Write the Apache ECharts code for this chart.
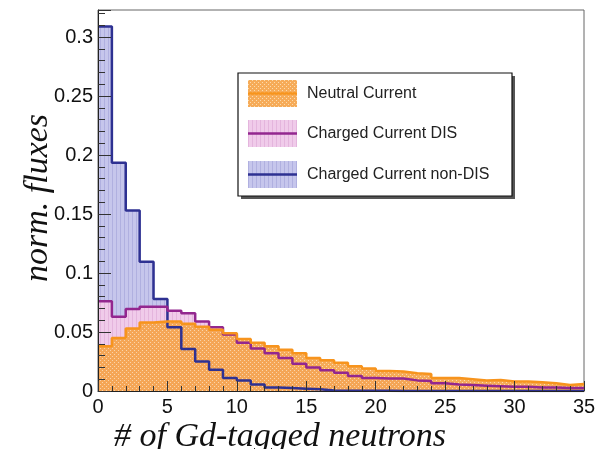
<!DOCTYPE html>
<html>
<head>
<meta charset="utf-8">
<script src="https://cdn.jsdelivr.net/npm/echarts@6/dist/echarts.min.js"></script>
<style>
html,body{margin:0;padding:0;background:#fff;}
#chart{width:610px;height:449px;}
</style>
</head>
<body>
<div id="chart"></div>
<script>
// bin edges 0..35 (unit-width bins)
const binEdges = Array.from({length: 36}, (_, i) => i);
const xTicks = [0, 5, 10, 15, 20, 25, 30, 35];
const yTicks = [0, 0.05, 0.1, 0.15, 0.2, 0.25, 0.3];

const seriesNames = ['Neutral Current', 'Charged Current DIS', 'Charged Current non-DIS'];

const ncValues = [0.038, 0.045, 0.053, 0.058, 0.059, 0.059, 0.057, 0.0545, 0.052, 0.049,
  0.044, 0.041, 0.038, 0.035, 0.032, 0.028, 0.026, 0.024, 0.021, 0.019,
  0.017, 0.0165, 0.015, 0.0145, 0.011, 0.011, 0.010, 0.009, 0.0093, 0.008,
  0.008, 0.0075, 0.0065, 0.005, 0.006];

const ccDisValues = [0.076, 0.063, 0.0695, 0.0715, 0.0715, 0.068, 0.066, 0.059, 0.054, 0.048,
  0.041, 0.036, 0.032, 0.028, 0.023, 0.020, 0.0175, 0.0155, 0.0127, 0.011,
  0.0105, 0.0105, 0.009, 0.0085, 0.0065, 0.0055, 0.005, 0.0045, 0.004, 0.0035,
  0.0035, 0.003, 0.003, 0.0025, 0.0025];

const ccNonDisValues = [0.309, 0.1935, 0.153, 0.1096, 0.078, 0.054, 0.0356, 0.025, 0.018, 0.011,
  0.009, 0.0055, 0.003, 0.0025, 0.002, 0.0015, 0.0005, 0.0003, 0.0002, 0.0002,
  0.0002, 0.0001, 0.0001, 0.0001, 0.0001, 0.0001, 0.0001, 0.0001, 0.0001, 0.0001,
  0.0001, 0.0001, 0.0001, 0.0001, 0.0001];

function stepData(vals) {
  const d = binEdges.slice(0, vals.length).map((e, i) => [e, vals[i]]);
  d.push([binEdges[vals.length], vals[vals.length - 1]]);
  return d;
}

function makePattern(kind, base, accent) {
  const c = document.createElement('canvas');
  c.width = 4; c.height = 4;
  const g = c.getContext('2d');
  g.fillStyle = base; g.fillRect(0, 0, 4, 4);
  g.fillStyle = accent;
  if (kind === 'vlines') {
    g.fillRect(0, 0, 1, 4);
  } else {
    g.clearRect(0, 0, 1, 1); g.fillRect(0, 0, 1, 1);
    g.clearRect(2, 2, 1, 1); g.fillRect(2, 2, 1, 1);
  }
  return c;
}

const colBlue = '#2e3192', colPurple = '#93278f', colOrange = '#f7941d';
const patBlue = makePattern('vlines', '#c6c6ec', '#b0b0e0');
const patPink = makePattern('vlines', '#f0cbea', '#e4b5dd');
const patOrange = makePattern('dots', 'rgba(245,162,70,0.9)', 'rgba(252,214,160,0.88)');

const chart = echarts.init(document.getElementById('chart'), null, {renderer: 'canvas'});

const labelFont = {fontFamily: 'Liberation Sans', fontSize: 20, color: '#111'};

const legendRows = [
  {name: seriesNames[0], color: colOrange, pat: patOrange, y: 80},
  {name: seriesNames[1], color: colPurple, pat: patPink, y: 120},
  {name: seriesNames[2], color: colBlue, pat: patBlue, y: 161}
];
const legendGraphics = [
  {type: 'rect', shape: {x: 241, y: 76, width: 274, height: 123}, style: {fill: '#555'}, z: 100},
  {type: 'rect', shape: {x: 238, y: 73, width: 274, height: 123}, style: {fill: '#fff', stroke: '#111', lineWidth: 1.2}, z: 101}
];
legendRows.forEach(r => {
  legendGraphics.push({type: 'rect', shape: {x: 248, y: r.y, width: 49, height: 27},
    style: {fill: {image: r.pat, repeat: 'repeat'}}, z: 102});
  legendGraphics.push({type: 'line', shape: {x1: 248, y1: r.y + 13.5, x2: 297, y2: r.y + 13.5},
    style: {stroke: r.color, lineWidth: 2.5}, z: 103});
  legendGraphics.push({type: 'text', x: 307, y: r.y + 13.5,
    style: {text: r.name, fontFamily: 'Liberation Sans', fontSize: 16, fill: '#222', textVerticalAlign: 'middle'}, z: 103});
});

const option = {
  animation: false,
  backgroundColor: '#fff',
  grid: {left: 98, right: 26, top: 10, bottom: 58, show: true, borderColor: '#666', borderWidth: 1, backgroundColor: 'transparent'},
  xAxis: {
    type: 'value', min: xTicks[0], max: xTicks[xTicks.length - 1], interval: 5, z: 10,
    axisLine: {show: true, lineStyle: {color: '#222', width: 1}},
    axisTick: {show: true, inside: true, length: 10, lineStyle: {color: '#333'}},
    minorTick: {show: true, splitNumber: 5, length: 5, lineStyle: {color: '#333'}},
    splitLine: {show: false},
    axisLabel: Object.assign({margin: 6}, labelFont)
  },
  yAxis: {
    type: 'value', min: 0, max: 0.323, interval: 0.05, z: 10,
    axisLine: {show: true, lineStyle: {color: '#222', width: 1}},
    axisTick: {show: true, inside: true, length: 13, lineStyle: {color: '#333'}},
    minorTick: {show: true, splitNumber: 5, length: 7, lineStyle: {color: '#333'}},
    splitLine: {show: false},
    axisLabel: Object.assign({margin: 5, showMaxLabel: false,
      formatter: v => (yTicks.some(t => Math.abs(t - v) < 1e-9) ? String(+v.toFixed(2)) : '')}, labelFont)
  },
  series: [
    {name: seriesNames[2], type: 'line', step: 'end', symbol: 'none', data: stepData(ccNonDisValues),
      lineStyle: {color: colBlue, width: 2.5}, areaStyle: {color: {image: patBlue, repeat: 'repeat'}, opacity: 1}},
    {name: seriesNames[1], type: 'line', step: 'end', symbol: 'none', data: stepData(ccDisValues),
      lineStyle: {color: colPurple, width: 2.5}, areaStyle: {color: {image: patPink, repeat: 'repeat'}, opacity: 1}},
    {name: seriesNames[0], type: 'line', step: 'end', symbol: 'none', data: stepData(ncValues),
      lineStyle: {color: colOrange, width: 2.5}, areaStyle: {color: {image: patOrange, repeat: 'repeat'}, opacity: 1}}
  ],
  graphic: legendGraphics.concat([
    {type: 'text', x: 280, y: 437, style: {text: '# of Gd-tagged neutrons', fontFamily: 'Liberation Serif', fontStyle: 'italic',
      fontSize: 34, fill: '#111', textAlign: 'center', textVerticalAlign: 'middle'}, z: 110},
    {type: 'text', x: 38, y: 198, rotation: Math.PI / 2, style: {text: 'norm. fluxes', fontFamily: 'Liberation Serif', fontStyle: 'italic',
      fontSize: 34, fill: '#111', textAlign: 'center', textVerticalAlign: 'middle'}, z: 110}
  ])
};
chart.setOption(option);
</script>
</body>
</html>
